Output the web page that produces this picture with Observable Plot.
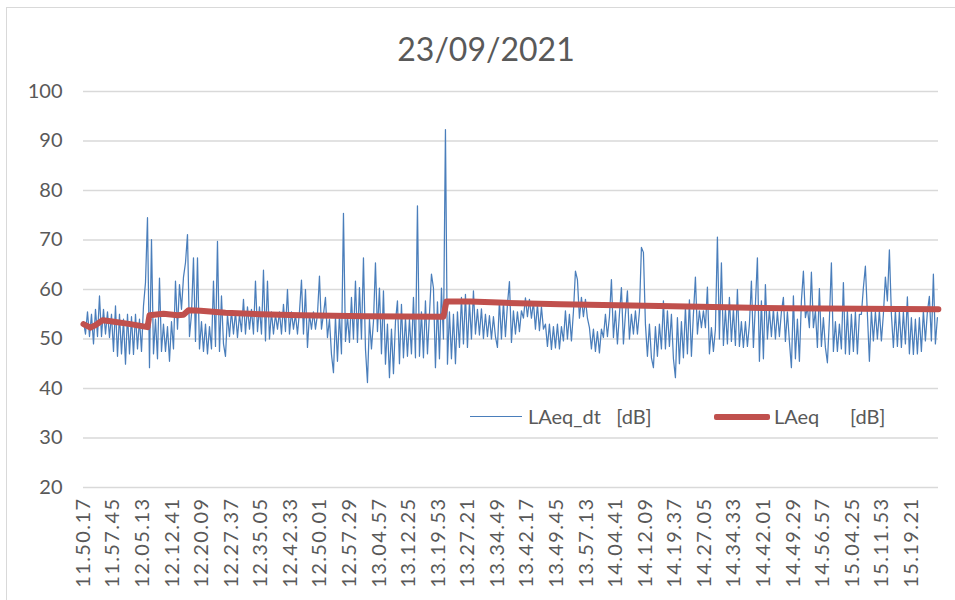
<!DOCTYPE html>
<html>
<head>
<meta charset="utf-8">
<script src="https://cdn.jsdelivr.net/npm/d3@7"></script>
<script src="https://cdn.jsdelivr.net/npm/@observablehq/plot@0.6"></script>
<style>
  body { margin: 0; background: #fff; }
  #wrap { position: relative; width: 955px; height: 600px; overflow: hidden; font-family: Lato, "Open Sans", sans-serif; }
  #frame { position: absolute; left: 6px; top: 7px; width: 1000px; height: 620px; border: 1px solid #d9d9d9; box-sizing: border-box; }
  #title { position: absolute; left: 0; width: 972px; top: 30px; line-height: 38px; text-align: center; font-size: 32px; color: #595959; }
  #chart { position: absolute; left: 0; top: 0; }
  #chart g[aria-label="x-axis tick label"] text { letter-spacing: 1.4px; }
  .leg-text { position: absolute; font-size: 20px; line-height: 24px; color: #595959; white-space: pre; }
  .leg-blue { position: absolute; left: 470px; top: 416px; width: 52px; height: 0; border-top: 1.5px solid #4a7ebb; }
  .leg-red { position: absolute; left: 714px; top: 414px; width: 56px; height: 6px; background: #c0504d; border-radius: 2px; }
</style>
</head>
<body>
<div id="wrap">
  <div id="frame"></div>
  <div id="chart"></div>
  <div id="title">23/09/2021</div>
  <div class="leg-blue"></div>
  <div class="leg-text" style="left:528px; top:404px;">LAeq_dt   [dB]</div>
  <div class="leg-red"></div>
  <div class="leg-text" style="left:774px; top:404px;">LAeq      [dB]</div>
</div>
<script>
// ---- data ----
const chartDate = "23/09/2021";
const seriesNames = ["LAeq_dt  [dB]", "LAeq     [dB]"];
const startTime = "11.50.17";
const endTime = "15.26.12";
const blueStepSeconds = 30.3;

const tickLabels = ["11.50.17","11.57.45","12.05.13","12.12.41","12.20.09","12.27.37","12.35.05","12.42.33","12.50.01","12.57.29","13.04.57","13.12.25","13.19.53","13.27.21","13.34.49","13.42.17","13.49.45","13.57.13","14.04.41","14.12.09","14.19.37","14.27.05","14.34.33","14.42.01","14.49.29","14.56.57","15.04.25","15.11.53","15.19.21"];
const yTicks = [20, 30, 40, 50, 60, 70, 80, 90, 100];

// LAeq_dt [dB] (short-interval level), sampled every blueStepSeconds from startTime
const laeqDt = [
  53.5, 51, 55.5, 50.5, 55, 49, 56, 50.5, 58.7, 50.5,
  56, 51, 55.5, 50.3, 55, 47.5, 56.7, 46.5, 55, 47,
  54, 44.9, 55, 47, 54.5, 46.9, 55, 48, 54, 47.5,
  56.7, 61.4, 74.5, 44.2, 70.1, 47, 54, 46, 62.3, 47.5,
  53, 47.5, 52.5, 45.5, 53.5, 48, 61.7, 52, 61, 56,
  62.5, 65.4, 71.1, 50.5, 55, 66.4, 49.5, 66.4, 48, 53.5,
  47.5, 53, 47, 52.5, 48, 61.7, 48.5, 69.7, 47.5, 58.7,
  49, 46.5, 55, 50.5, 55.7, 51, 55.5, 50.3, 55, 51.5,
  58, 51, 56.5, 52, 56, 51, 61.7, 51.5, 56.5, 51,
  63.9, 49.6, 61.7, 50, 55.5, 51, 55, 52, 55.5, 51,
  57, 51.5, 60, 51, 55.5, 52, 55, 51, 55.5, 61.9,
  51, 60, 48.3, 55, 52, 55.5, 52, 55, 62.7, 52,
  55, 58.4, 50.3, 54, 46.9, 43.2, 54.5, 45.5, 55, 47,
  75.4, 49.5, 54.7, 49.3, 58.4, 50, 61.7, 49.3, 60.4, 50,
  66.4, 48, 41.2, 54, 48, 53.5, 65.4, 51.5, 60.3, 47,
  59.7, 44.9, 53, 42.2, 52, 43, 53.5, 57.7, 45, 57,
  46.2, 54.3, 46.5, 54, 47, 58.4, 46.2, 76.9, 46.5, 55.5,
  46.2, 57.7, 47, 55, 63.1, 60.3, 44.2, 57.5, 46, 60.3,
  50, 92.3, 44.9, 55.5, 46, 55, 45, 55.5, 48.3, 58.4,
  49, 59, 48.3, 57.5, 50, 59.7, 51, 56, 50.8, 56.1,
  50.1, 55, 50.5, 54.7, 50, 54.5, 50.5, 48.3, 57.7, 50,
  57.5, 50.5, 57, 61.6, 49.3, 55.7, 51, 55.5, 51.5, 55.7,
  54.2, 58.3, 54.5, 58, 54.2, 57.5, 52, 57, 51.7, 56.5,
  52, 53, 48.5, 53, 47.9, 52.5, 48.2, 53, 48, 52.5,
  49.6, 55.7, 50, 55, 49.6, 55.5, 63.7, 62, 54.2, 58.4,
  54.5, 58, 54.2, 52.3, 48, 52, 47.5, 51.5, 47.2, 52,
  50.3, 55, 50.5, 54.5, 62, 50.3, 55.7, 49, 55, 60.4,
  49, 55, 59.7, 50, 55, 51, 55.7, 51, 55.5, 68.5,
  67.5, 53, 46.5, 53, 46.2, 44.2, 52.5, 46.5, 53, 48,
  57.7, 48, 55.7, 48.5, 55, 46, 42.2, 54.3, 45, 53.5,
  46.2, 56.4, 47, 57.9, 46.5, 55, 62.5, 51, 55.7, 52.3,
  55.7, 52.3, 60.5, 47, 52.3, 47.5, 52, 70.6, 50, 65.4,
  48.7, 56, 49, 58.4, 49.5, 56.1, 48.7, 60, 48.5, 53.5,
  48.3, 53.5, 48.5, 53, 61.7, 48.3, 57, 66.4, 45.5, 57.7,
  46, 61, 50, 56, 50.5, 56.1, 50, 55.5, 50.5, 55.5,
  58.4, 49.5, 55.5, 49.5, 44.2, 58.7, 46, 54, 45.5, 57.7,
  63.7, 54.3, 56.4, 52.3, 63.5, 52.3, 55.7, 48.3, 60.2, 48.5,
  54.3, 48.3, 45.2, 54, 65.4, 47.5, 53.5, 47.5, 53, 48,
  61.4, 47, 55.7, 46.9, 55, 47.5, 55.5, 47, 55, 55,
  60.4, 64.7, 55, 45.5, 55.7, 49.6, 55.5, 50, 55.7, 49.6,
  55, 62.5, 57.7, 68, 55, 48.3, 55.7, 48.5, 55.5, 48.3,
  55.5, 49, 58.5, 47, 54.3, 46.9, 54, 47, 54.3, 47.5,
  55.7, 49.6, 55.5, 58.6, 49.6, 63.1, 49, 54.3
];

// LAeq [dB] (running equivalent level)
const laeqTimes = ["11.50.17","11.52.03","11.53.19","11.55.05","11.57.06","12.02.09","12.06.27","12.06.57","12.10.29","12.14.01","12.15.32","12.16.48","12.19.50","12.26.08","12.34.59","12.45.05","13.01.29","13.21.11","13.21.56","13.28.00","13.36.50","13.50.44","14.12.11","14.26.05","14.47.32","15.06.29","15.26.10"];
const laeqValues = [53.0, 52.3, 52.8, 53.8, 53.6, 53.0, 52.4, 54.8, 55.1, 54.8, 54.9, 55.8, 55.7, 55.3, 55.0, 54.8, 54.6, 54.5, 57.6, 57.6, 57.3, 57.0, 56.7, 56.5, 56.2, 56.1, 56.0];

// ---- build ----
const parseT = s => { const [h, m, sec] = s.split(".").map(Number); return new Date(Date.UTC(2021, 8, 23, h, m, sec)); };
const t0 = parseT(startTime).getTime();
const blueData = laeqDt.map((v, i) => ({ t: new Date(t0 + i * blueStepSeconds * 1000), v }));
const redData = laeqTimes.map((s, i) => ({ t: parseT(s), v: laeqValues[i] }));
const tickDates = tickLabels.map(parseT);
const labelMap = new Map(tickDates.map((d, i) => [+d, tickLabels[i]]));

const chart = Plot.plot({
  width: 955,
  height: 600,
  marginLeft: 83,
  marginRight: 17,
  marginTop: 91,
  marginBottom: 113,
  style: { fontFamily: "Lato, 'Open Sans', sans-serif", fontSize: "20px", color: "#595959", background: "transparent", overflow: "visible" },
  x: { type: "utc", domain: [parseT(startTime), parseT(endTime)], label: null },
  y: { domain: [20, 100], label: null },
  marks: [
    Plot.gridY(yTicks, { stroke: "#d9d9d9", strokeOpacity: 1, strokeWidth: 1.3 }),
    Plot.axisY(yTicks, { tickSize: 0, tickPadding: 21, fontSize: 20, label: null }),
    Plot.axisX(tickDates, { tickSize: 0, tickPadding: 10, tickRotate: -90, fontSize: 20, label: null, tickFormat: d => labelMap.get(+d) }),
    Plot.line(blueData, { x: "t", y: "v", stroke: "#4a7ebb", strokeWidth: 1.25 }),
    Plot.line(redData, { x: "t", y: "v", stroke: "#c0504d", strokeWidth: 6, strokeLinejoin: "round" })
  ]
});
document.getElementById("chart").appendChild(chart);
</script>
</body>
</html>
